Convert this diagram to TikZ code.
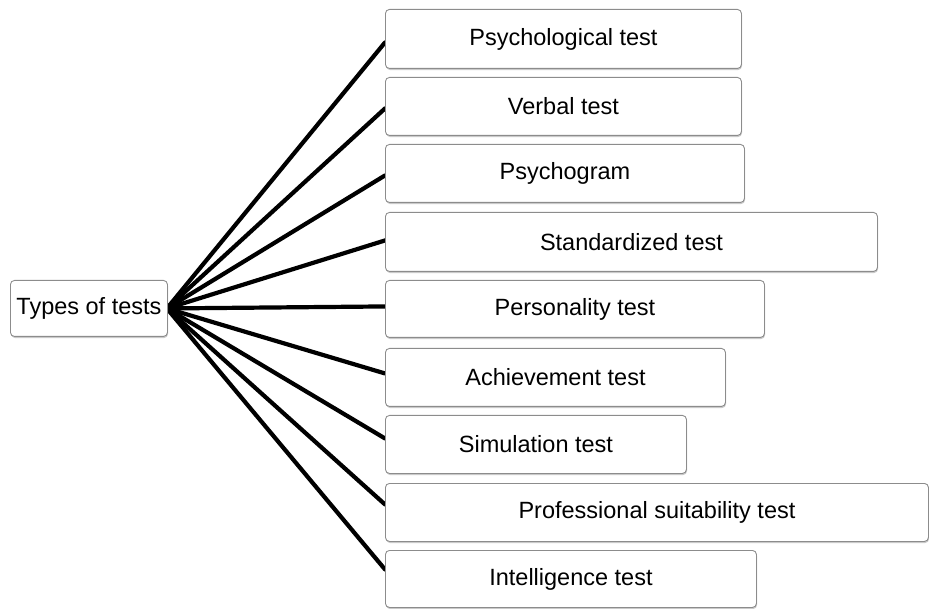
\documentclass[tikz,border=0pt]{standalone}
\usepackage{fontspec}
\setmainfont{Liberation Sans}
\usetikzlibrary{calc,shadows,backgrounds}
\tikzset{
  box/.style={draw=black!45, line width=0.9pt, rounded corners=4pt, fill=white,
    drop shadow={shadow xshift=0.6pt, shadow yshift=-1.6pt, opacity=0.35, fill=black!60},
    anchor=north west, inner sep=0pt, font=\fontsize{23.5}{26}\selectfont},
  link/.style={line width=4.2pt, black, line cap=round}
}
\newcommand{\mybox}[6]{\node[box, minimum width=#4pt-#2pt, minimum height=#5pt-#3pt] (#1) at (#2,#3) {#6};}
\begin{document}
\begin{tikzpicture}[x=1pt,y=-1pt]
\useasboundingbox (0,0) rectangle (929,609);
\mybox{L}{10}{280}{167}{336}{Types of tests}
\mybox{b1}{385}{9}{741}{68}{Psychological test}
\mybox{b2}{385}{77}{741}{135}{Verbal test}
\mybox{b3}{385}{144}{744}{202}{Psychogram}
\mybox{b4}{385}{212}{877}{271}{Standardized test}
\mybox{b5}{385}{280}{764}{337}{Personality test}
\mybox{b6}{385}{348}{725}{406}{Achievement test}
\mybox{b7}{385}{415}{686}{473}{Simulation test}
\mybox{b8}{385}{483}{928}{541}{Professional suitability test}
\mybox{b9}{385}{550}{756}{607}{Intelligence test}
\begin{scope}[on background layer]
\coordinate (hub) at ($(L.east)+(-1,0)$);
\draw[link] (hub) -- ($(b1.west)+(0,3.5)$);
\draw[link] (hub) -- ($(b2.west)+(0,2)$);
\draw[link] (hub) -- ($(b3.west)+(0,2)$);
\draw[link] (hub) -- ($(b4.west)+(0,-1.5)$);
\draw[link] (hub) -- ($(b5.west)+(0,-2.5)$);
\draw[link] (hub) -- ($(b6.west)+(0,-4)$);
\draw[link] (hub) -- ($(b7.west)+(0,-6)$);
\draw[link] (hub) -- ($(b8.west)+(0,-8)$);
\draw[link] (hub) -- ($(b9.west)+(0,-9.5)$);
\end{scope}
\end{tikzpicture}
\end{document}
